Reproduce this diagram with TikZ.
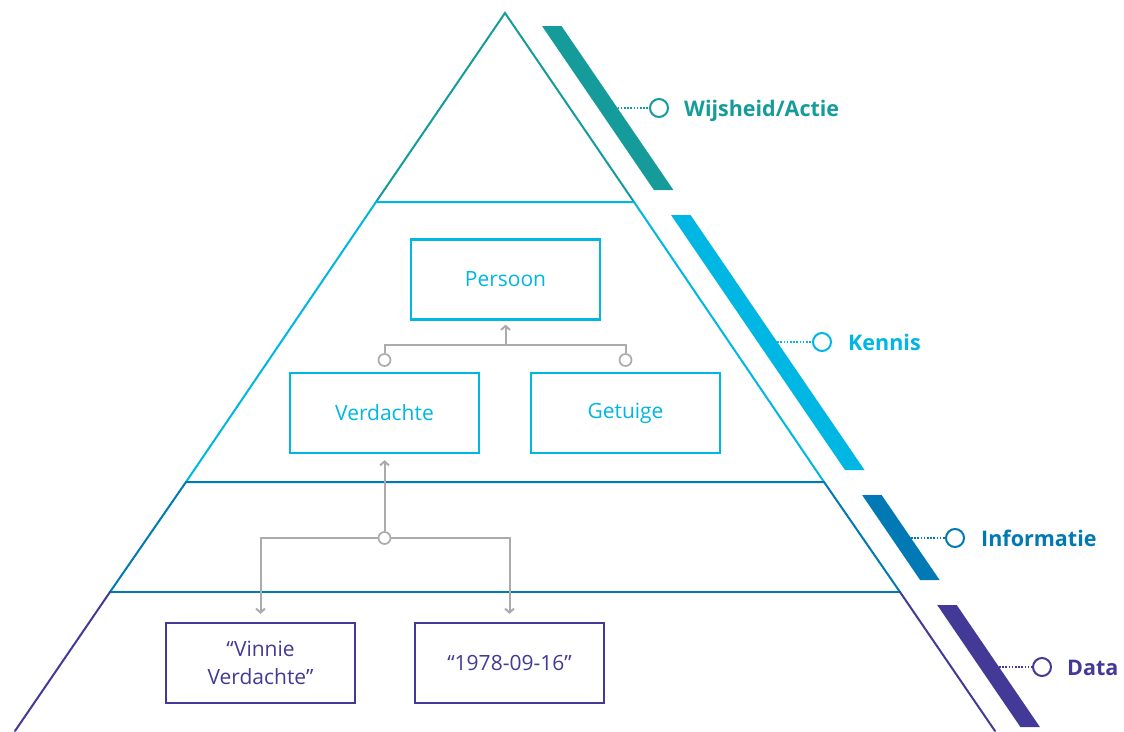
\documentclass[tikz,border=0pt]{standalone}
\usepackage{fontspec}
\setmainfont{Open Sans}
\usetikzlibrary{arrows.meta}
\definecolor{cteal}{HTML}{159C9A}
\definecolor{ccyan}{HTML}{00B6E3}
\definecolor{cblue}{HTML}{0079B4}
\definecolor{cpurple}{HTML}{433996}
\definecolor{cgray}{HTML}{ABABAB}
\tikzset{
  edge/.style={line width=2pt, line cap=round},
  box/.style={draw, line width=2.2pt, minimum width=189pt, minimum height=80pt, inner sep=0pt, font=\fontsize{21}{28}\selectfont, align=center},
  conn/.style={draw=cgray, line width=2pt},
  arr/.style={-{Straight Barb[length=4pt,width=9pt,line width=2pt]}},
  knob/.style={circle, draw=cgray, fill=white, line width=1.7pt, minimum size=12pt, inner sep=0pt},
  ring/.style={circle, draw, fill=white, line width=2pt, minimum size=18pt, inner sep=0pt},
  dots/.style={line width=1.6pt, dash pattern=on 1.6pt off 1.6pt},
  lab/.style={anchor=base west, inner sep=0pt, font=\bfseries\fontsize{21.5}{26}\selectfont}
}
\begin{document}
\begin{tikzpicture}[x=1pt,y=-1pt]
\useasboundingbox (0,0) rectangle (1124,731);
% pyramid outline
\draw[edge, cteal] (376,202) -- (505,13) -- (634,202);
\draw[edge, ccyan] (186,482) -- (376,202) -- (634,202) -- (824,482);
\draw[edge, cblue] (110,592) -- (186,482) -- (824,482) -- (900,592);
\draw[edge, cblue] (110,592) -- (900,592);
\draw[edge, cpurple] (15,731) -- (110,592);
\draw[edge, cpurple] (900,592) -- (995,731);
% side bars
\fill[cteal] (542,26) -- (561.5,26) -- (673.4,190) -- (653.9,190) -- cycle;
\fill[ccyan] (671,215) -- (690.5,215) -- (864.5,470) -- (845,470) -- cycle;
\fill[cblue] (862.1,495) -- (881.6,495) -- (939.6,580) -- (920.1,580) -- cycle;
\fill[cpurple] (937.2,605) -- (956.7,605) -- (1039.9,727) -- (1020.4,727) -- cycle;
% level labels
\coordinate (b1) at (617.5,108);
\coordinate (b2) at (777.2,342);
\coordinate (b3) at (910.9,538);
\coordinate (b4) at (999,667);
\node[ring, draw=cteal] (r1) at (659,108) {};
\node[ring, draw=ccyan] (r2) at (822,342) {};
\node[ring, draw=cblue] (r3) at (955,538) {};
\node[ring, draw=cpurple] (r4) at (1042,667) {};
\draw[dots, cteal] (b1) -- (r1);
\draw[dots, ccyan] (b2) -- (r2);
\draw[dots, cblue] (b3) -- (r3);
\draw[dots, cpurple] (b4) -- (r4);
\node[lab, text=cteal] (l1) at (684,116) {Wijsheid/Actie};
\node[lab, text=ccyan] (l2) at (848,350) {Kennis};
\node[lab, text=cblue] (l3) at (981,546) {Informatie};
\node[lab, text=cpurple] (l4) at (1067,675) {Data};
% boxes
\node[box, draw=ccyan, text=ccyan] (persoon) at (505.5,279.5) {Persoon};
\node[box, draw=ccyan, text=ccyan] (verdachte) at (384.5,413) {Verdachte};
\node[box, draw=ccyan, text=ccyan] (getuige) at (625.5,413) {Getuige};
\node[box, draw=cpurple, text=cpurple] (vinnie) at (260.5,663) {“Vinnie\\Verdachte”};
\node[box, draw=cpurple, text=cpurple] (datum) at (509.5,663) {“1978-09-16”};
% connectors
\coordinate (j1) at (505.5,345);
\node[knob] (kl) at (384.5,360) {};
\node[knob] (kr) at (625.5,360) {};
\draw[conn] (kl) |- (j1) -| (kr);
\draw[conn, arr] (j1) -- ([yshift=-4pt]persoon.south);
\node[knob] (kd) at (384.5,538) {};
\draw[conn, arr] (kd) -- ([yshift=-6pt]verdachte.south);
\draw[conn, arr] (kd) -| ([yshift=8pt]vinnie.north);
\draw[conn, arr] (kd) -| ([yshift=8pt]datum.north);
\end{tikzpicture}
\end{document}
